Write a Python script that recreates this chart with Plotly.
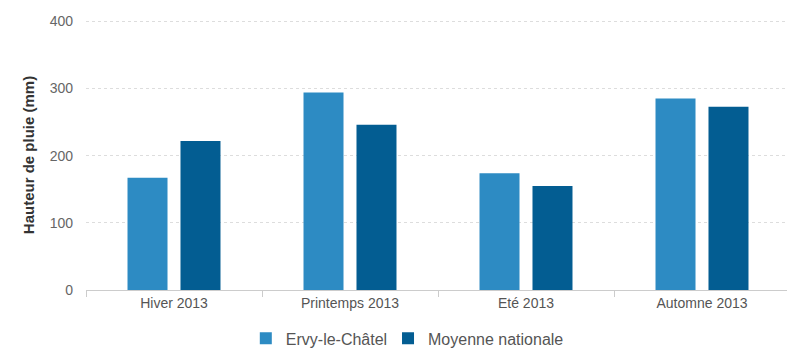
import plotly.graph_objects as go

categories = ["Hiver 2013", "Printemps 2013", "Eté 2013", "Automne 2013"]
ervy = [167, 294, 174, 285]
nationale = [222, 246, 155, 273]
y_ticks = [0, 100, 200, 300, 400]

fig = go.Figure()
fig.add_trace(go.Bar(x=categories, y=ervy, name="Ervy-le-Châtel", marker_color="#2d8bc3",
                     marker_line_width=0, legend="legend"))
fig.add_trace(go.Bar(x=categories, y=nationale, name="Moyenne nationale", marker_color="#035d92",
                     marker_line_width=0, legend="legend2"))

leg_common = dict(orientation="h", xanchor="left", yref="container", y=0.031, yanchor="middle",
                  font=dict(size=16, color="#555555"), itemwidth=30, bgcolor="rgba(0,0,0,0)")

fig.update_layout(
    width=787, height=341,
    margin=dict(l=78, r=5, t=12, b=59),
    paper_bgcolor="white", plot_bgcolor="white",
    barmode="group", bargap=0.398, bargroupgap=0.245,
    font=dict(family="Liberation Sans, Arial, sans-serif", size=14, color="#666666"),
    showlegend=True,
    legend=dict(x=0.227, **leg_common),
    legend2=dict(x=0.429, **leg_common),
    xaxis=dict(showline=True, linecolor="#cccccc", linewidth=1, ticks="outside",
               tickson="boundaries", ticklen=6, tickcolor="#cccccc", automargin=False,
               tickfont=dict(size=14, color="#555555"), showgrid=False),
    yaxis=dict(range=[0, 402], tickvals=y_ticks, showgrid=True, gridcolor="#dddddd",
               griddash="dot", gridwidth=1, zeroline=False, automargin=False,
               tickfont=dict(size=14, color="#666666"), ticklabelstandoff=12,
               title=dict(text="<b>Hauteur de pluie (mm)</b>", font=dict(size=15, color="#333333"), standoff=11)),
)

fig.write_html("out.html")
